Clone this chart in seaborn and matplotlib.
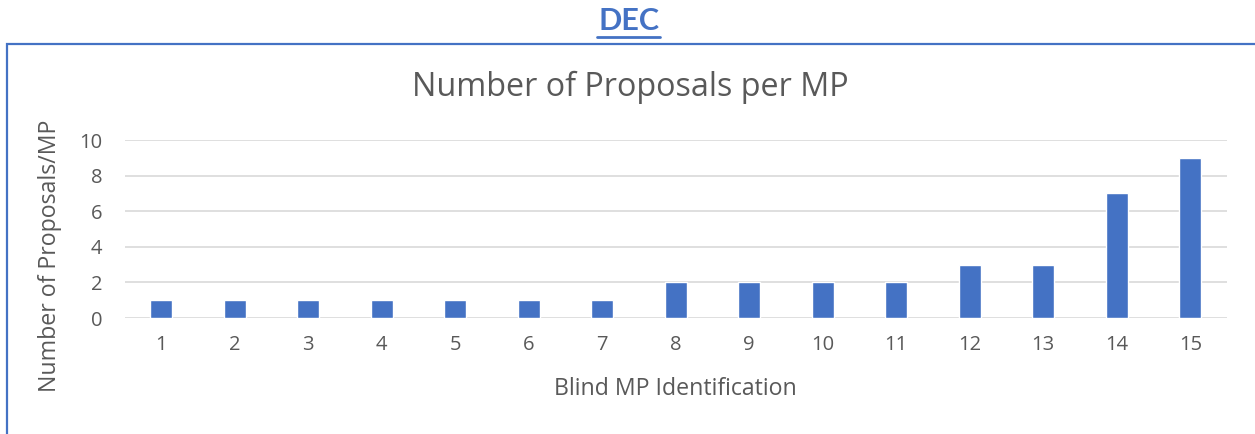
import matplotlib
matplotlib.use("Agg")
import matplotlib.pyplot as plt
from matplotlib.patches import Rectangle
import seaborn as sns
import pandas as pd

# Proposals counted for each anonymised MP
mp_ids = ["1", "2", "3", "4", "5", "6", "7", "8", "9", "10", "11", "12", "13", "14", "15"]
proposals = [1, 1, 1, 1, 1, 1, 1, 2, 2, 2, 2, 3, 3, 7, 9]
y_ticks = [0, 2, 4, 6, 8, 10]

sns.set_theme(style="white")
plt.rcParams["font.family"] = ["Open Sans", "DejaVu Sans"]

BLUE = "#4472C4"
TEXT = "#595959"
GRID = "#D9D9D9"

W, H = 1255, 434
fig = plt.figure(figsize=(W / 100, H / 100), dpi=100)

# Page heading above the chart frame
fig.text(629 / W, 1 - 21 / H, "DEC", ha="center", va="center",
         fontsize=22, fontweight="bold", color=BLUE, family=["Lato", "DejaVu Sans"])
fig.add_artist(plt.Line2D([597 / W, 660 / W], [1 - 37 / H, 1 - 37 / H],
                          color=BLUE, linewidth=2, transform=fig.transFigure))

# Chart frame
fig.add_artist(Rectangle((7 / W, -0.05), 1.1, 1 - 44 / H + 0.05,
                         transform=fig.transFigure, fill=False,
                         edgecolor=BLUE, linewidth=1.6))

ax = fig.add_axes([124.5 / W, 1 - 318 / H, (1227 - 124.5) / W, (318 - 140) / H])

df = pd.DataFrame({"mp": mp_ids, "n": proposals})
sns.barplot(data=df, x="mp", y="n", order=mp_ids, color=BLUE,
            width=0.3, saturation=1, ax=ax, zorder=3)

ax.set_xlim(-0.5, len(mp_ids) - 0.5)
ax.set_ylim(0, 10)
ax.set_yticks(y_ticks)
ax.yaxis.grid(True, color=GRID, linewidth=1.2, zorder=0)
ax.set_axisbelow(True)
for s in ax.spines.values():
    s.set_visible(False)
ax.tick_params(axis="both", length=0, labelsize=14.5, colors=TEXT)
ax.tick_params(axis="x", pad=12)
ax.tick_params(axis="y", pad=16)
ax.set_xlabel("")
ax.set_ylabel("")

fig.text(630 / W, 1 - 87 / H, "Number of Proposals per MP", ha="center",
         va="center", fontsize=23.3, color=TEXT)
fig.text(675 / W, 1 - 389 / H, "Blind MP Identification", ha="center",
         va="center", fontsize=16.7, color=TEXT)
fig.text(50 / W, 1 - 256 / H, "Number of Proposals/MP", ha="center",
         va="center", rotation=90, fontsize=16.7, color=TEXT)

fig.savefig("out.png", dpi=100)
